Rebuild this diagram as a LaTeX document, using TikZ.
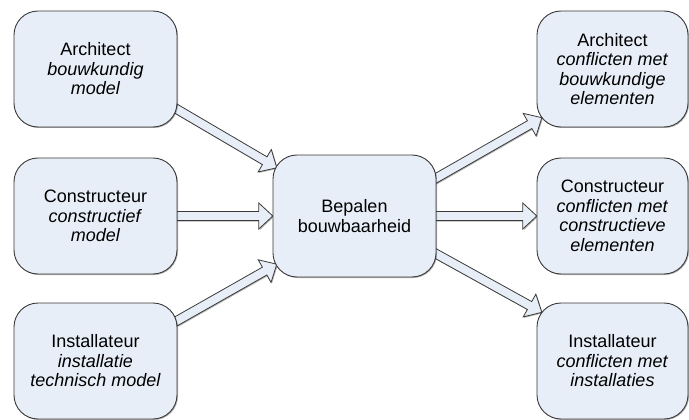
\documentclass[tikz,border=0pt]{standalone}
\usepackage{fontspec}
\setmainfont{Liberation Sans}
\usetikzlibrary{calc,shadows}

\definecolor{boxfill}{HTML}{E8EEF8}
\definecolor{edgeline}{HTML}{3A3A3A}

\tikzset{
  softshadow/.style={drop shadow={shadow xshift=1pt, shadow yshift=-1pt,
      fill=black, opacity=0.3}},
  roundbox/.style={draw=edgeline, fill=boxfill, line width=0.9pt,
      rounded corners=24pt, minimum height=116pt, inner sep=0pt,
      align=center, font=\fontsize{18}{19.5}\selectfont, softshadow},
  sidebox/.style={roundbox, minimum width=163pt},
  resultbox/.style={roundbox, minimum width=151pt},
  anchorbox/.style={inner sep=0pt, minimum height=116pt},
  hollowarrow/.style={draw=edgeline, fill=boxfill, line width=0.8pt,
      line join=miter, softshadow}
}

% block arrow from #1 to #2: shaft half-width 4.5pt, head half-width 13pt, head length 14pt
\newcommand{\blockarrow}[2]{%
  \draw[hollowarrow]
    ($(#1)!4.5pt!90:(#2)$)
    -- ($(#2)!14pt!(#1)!4.5pt!90:(#2)$)
    -- ($(#2)!14pt!(#1)!13pt!90:(#2)$)
    -- (#2)
    -- ($(#2)!14pt!(#1)!13pt!-90:(#2)$)
    -- ($(#2)!14pt!(#1)!4.5pt!-90:(#2)$)
    -- ($(#1)!4.5pt!-90:(#2)$)
    -- cycle;}

\begin{document}
\begin{tikzpicture}[x=1pt,y=-1pt]
\useasboundingbox (0,0) rectangle (689,420);

% empty frames giving the box outlines' anchors
\node[anchorbox, minimum width=163pt] (L1) at (95.5,69) {};
\node[anchorbox, minimum width=163pt] (L2) at (95.5,216) {};
\node[anchorbox, minimum width=163pt] (L3) at (95.5,361) {};
\node[anchorbox, minimum width=163pt, minimum height=122pt] (C) at (354.5,216) {};
\node[anchorbox, minimum width=151pt] (R1) at (612.5,69) {};
\node[anchorbox, minimum width=151pt] (R2) at (612.5,216) {};
\node[anchorbox, minimum width=151pt] (R3) at (612.5,361) {};

% arrow end points
\coordinate (s1) at ($(L1.south east)+(-2,-19)$);
\coordinate (t1) at ($(C.north west)+(4,13)$);
\coordinate (s2) at ($(L2.east)+(-2,0)$);
\coordinate (t2) at (C.west);
\coordinate (s3) at ($(L3.north east)+(-2,19)$);
\coordinate (t3) at ($(C.south west)+(4,-13)$);
\coordinate (s4) at ($(C.north east)+(-3,25)$);
\coordinate (t4) at ($(R1.south west)+(5,-9.5)$);
\coordinate (s5) at ($(C.east)+(-2,0)$);
\coordinate (t5) at (R2.west);
\coordinate (s6) at ($(C.south east)+(-3,-25)$);
\coordinate (t6) at ($(R3.north west)+(5,9.5)$);

\blockarrow{s1}{t1}
\blockarrow{s2}{t2}
\blockarrow{s3}{t3}
\blockarrow{s4}{t4}
\blockarrow{s5}{t5}
\blockarrow{s6}{t6}

% boxes, drawn over the arrow tails
\node[sidebox] (A1) at (L1) {Architect\\\textit{bouwkundig}\\\textit{model}};
\node[sidebox] (A2) at (L2) {Constructeur\\\textit{constructief}\\\textit{model}};
\node[sidebox] (A3) at (L3) {Installateur\\\textit{installatie}\\\textit{technisch model}};
\node[sidebox, minimum height=122pt] (B) at (C) {Bepalen\\bouwbaarheid};
\node[resultbox] (D1) at (R1) {Architect\\\textit{conflicten met}\\\textit{bouwkundige}\\\textit{elementen}};
\node[resultbox] (D2) at (R2) {Constructeur\\\textit{conflicten met}\\\textit{constructieve}\\\textit{elementen}};
\node[resultbox] (D3) at (R3) {Installateur\\\textit{conflicten met}\\\textit{installaties}};
\end{tikzpicture}
\end{document}
